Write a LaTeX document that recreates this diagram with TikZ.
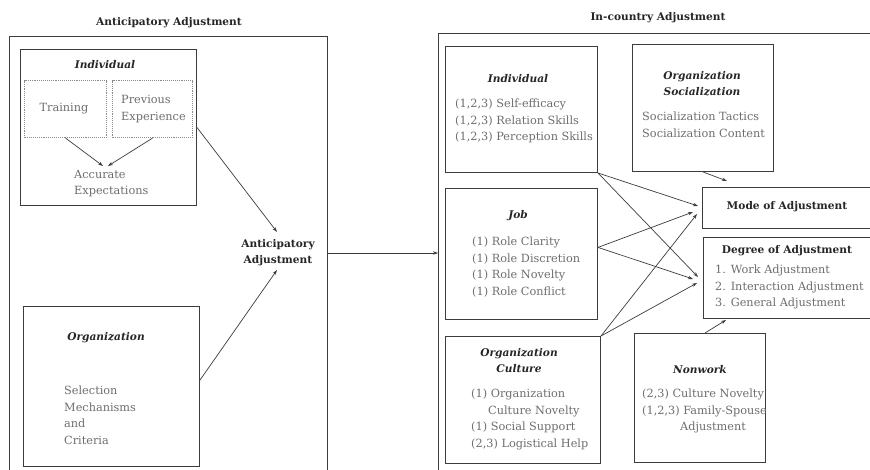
\documentclass[tikz,border=0pt]{standalone}
\usepackage{fontspec}
\setmainfont{DejaVu Serif}
\usetikzlibrary{arrows.meta,calc}
\definecolor{ln}{HTML}{3C3C3C}
\definecolor{bodyc}{HTML}{6E6E6E}
\definecolor{titc}{HTML}{262626}
\tikzset{
  frame/.style={draw=ln, line width=1pt},
  box/.style={draw=ln, line width=1pt, inner sep=0pt, anchor=north west},
  dotbox/.style={draw=bodyc!80, line width=1.1pt, densely dotted, inner sep=0pt, anchor=north west},
  body/.style={text=bodyc, font=\fontsize{11.3}{16.5}\selectfont, align=left, inner sep=0pt},
  title/.style={text=titc, font=\fontsize{10.6}{16}\selectfont\bfseries, align=center, inner sep=0pt},
  ititle/.style={text=titc, font=\fontsize{10.6}{16}\selectfont\bfseries\itshape, align=center, inner sep=0pt},
  arr/.style={draw=ln, line width=0.7pt, -{Stealth[length=5pt,width=3.4pt]}},
}
\begin{document}
\begin{tikzpicture}[x=1pt,y=-1pt]
\useasboundingbox (0,0) rectangle (870,470);
\clip (0,0) rectangle (870,470);
\fill[white] (0,0) rectangle (870,470);

% headers
\node[title] (hdrL) at (169,23) {Anticipatory Adjustment};
\node[title] (hdrR) at (658,18) {In-country Adjustment};

% outer frames
\draw[frame] (9,480) |- (327,37) -- (327,480);
\draw[frame] (438,480) |- (880,34);
\coordinate (lout) at (327,253);
\coordinate (rout) at (438,253);

% ---------- left side ----------
\node[box, minimum width=176pt, minimum height=156pt] (lind) at (20,49) {};
\node[ititle] (lindt) at (105,65) {Individual};
\node[dotbox, minimum width=82pt, minimum height=57pt] (train) at (24,80) {};
\node[dotbox, minimum width=80pt, minimum height=57pt] (prev) at (112,80) {};
\node[body] (traint) at (64,109) {Training};
\node[body, anchor=north west] (prevt) at (121,95) {Previous\\Experience};
\node[body, anchor=north west] (acc) at (74,170) {Accurate\\Expectations};
\coordinate (accL) at (103,166);
\coordinate (accR) at (108,166);

\node[box, minimum width=176pt, minimum height=160pt] (lorg) at (23,306) {};
\node[ititle] (lorgt) at (106,338) {Organization};
\node[body, anchor=north west] (sel) at (64,386) {Selection\\Mechanisms\\and\\Criteria};

\node[title] (antic) at (278,253) {Anticipatory\\Adjustment};
\coordinate (anticT) at (277,232);
\coordinate (anticB) at (277,270);

% ---------- right side ----------
\node[box, minimum width=152pt, minimum height=126pt] (rind) at (445,46) {};
\node[ititle] (rindt) at (518,79) {Individual};
\node[body, anchor=north west] (rindi) at (455,99) {(1,2,3) Self-efficacy\\(1,2,3) Relation Skills\\(1,2,3) Perception Skills};

\node[box, minimum width=141pt, minimum height=127pt] (osoc) at (632,44) {};
\node[ititle] (osoct) at (702,84) {Organization\\Socialization};
\node[body, anchor=north west] (osoci) at (642,112) {Socialization Tactics\\Socialization Content};

\node[box, minimum width=170pt, minimum height=41pt] (mode) at (702,187) {};
\node[title] (modet) at (787,207) {Mode of Adjustment};

\node[box, minimum width=152pt, minimum height=131pt] (job) at (445,188) {};
\node[ititle] (jobt) at (518,216) {Job};
\node[body, anchor=north west] (jobi) at (472,237) {(1) Role Clarity\\(1) Role Discretion\\(1) Role Novelty\\(1) Role Conflict};

\node[box, minimum width=169pt, minimum height=81pt] (deg) at (703,237) {};
\node[title] (degt) at (787,251) {Degree of Adjustment};
\node[body, anchor=north west] (degi) at (715,265) {1. Work Adjustment\\2. Interaction Adjustment\\3. General Adjustment};

\node[box, minimum width=155pt, minimum height=127pt] (ocul) at (445,336) {};
\node[ititle] (ocult) at (519,361) {Organization\\Culture};
\node[body, anchor=north west] (oculi) at (471,389) {(1) Organization\\\hspace*{17pt}Culture Novelty\\(1) Social Support\\(2,3) Logistical Help};

\node[box, minimum width=131pt, minimum height=129pt] (nonw) at (634,333) {};
\node[ititle] (nonwt) at (700,370) {Nonwork};
\node[body, anchor=north west] (nonwi) at (642,389) {(2,3) Culture Novelty\\(1,2,3) Family-Spouse\\\hspace*{38pt}Adjustment};

% arrow targets
\coordinate (m1) at (698,206);
\coordinate (m2) at (693,212);
\coordinate (m3) at (697,214);
\coordinate (d1) at (698,277);
\coordinate (d2) at (693,279);
\coordinate (d3) at (697,283);
\coordinate (modeT) at (727,181);
\coordinate (degB) at (726,320);

% ---------- arrows ----------
\draw[arr] (train.south) -- (accL);
\draw[arr] (prev.south) -- (accR);
\draw[arr] ($(lind.north east)!0.5!(lind.south east)$) -- (anticT);
\draw[arr] ($(lorg.north east)!0.46!(lorg.south east)$) -- (anticB);
\draw[arr] (lout) -- (rout);

\draw[arr] (osoc.south) -- (modeT);
\draw[arr] ($(nonw.north)+(5,0)$) -- (degB);

\draw[arr] (rind.south east) -- (m1);
\draw[arr] (rind.south east) -- (d1);
\draw[arr] ($(job.north east)!0.45!(job.south east)$) -- (m2);
\draw[arr] ($(job.north east)!0.45!(job.south east)$) -- (d2);
\draw[arr] (ocul.north east) -- (m3);
\draw[arr] (ocul.north east) -- (d3);
\end{tikzpicture}
\end{document}
